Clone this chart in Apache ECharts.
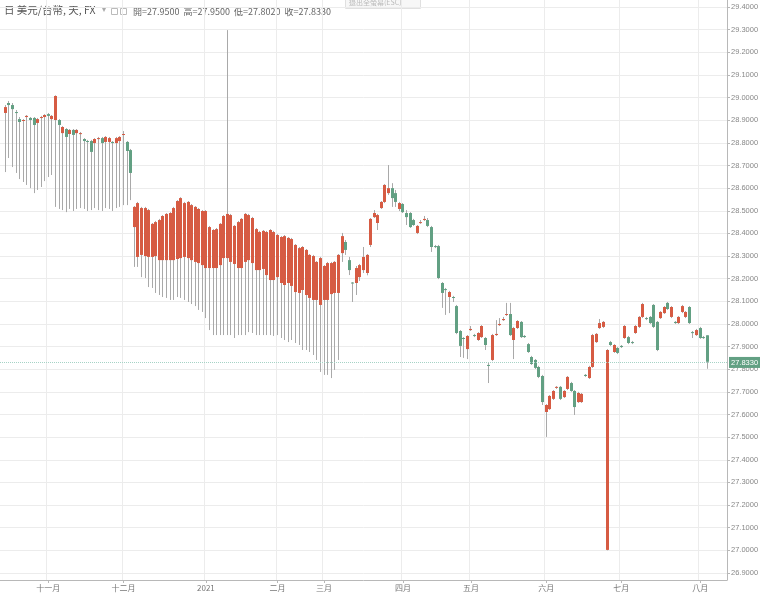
<!DOCTYPE html>
<html><head><meta charset="utf-8">
<script src="https://cdn.jsdelivr.net/npm/echarts@6/dist/echarts.min.js"></script>
<style>html,body{margin:0;padding:0;background:#fff}#c{width:760px;height:594px}</style>
</head><body><div id="c"></div>
<script>
// ---- data (USD/TWD daily, 2020-10-15 .. 2021-08-04) ----
const holidays = ['2021-01-01','2021-02-08','2021-02-09','2021-02-10','2021-02-11','2021-02-12','2021-02-15','2021-02-16','2021-03-01','2021-04-01','2021-04-02','2021-04-05','2021-06-14'];
const firstDay = '2020-10-14';   // first category slot (no candle drawn)
const lastDay = '2021-08-11';    // last category slot (empty space on right)
const firstCandleSlot = 1;
const monthNames = ['2021','二月','三月','四月','五月','六月','七月','八月','九月','十月','十一月','十二月'];
const yTicks = [26.9,27.0,27.1,27.2,27.3,27.4,27.5,27.6,27.7,27.8,27.9,28.0,28.1,28.2,28.3,28.4,28.5,28.6,28.7,28.8,28.9,29.0,29.1,29.2,29.3,29.4];
const lastClose = 27.833;

const opens = [28.932,28.976,28.967,28.936,28.905,28.897,28.914,28.910,28.910,28.888,
28.910,28.914,28.927,28.905,28.901,28.901,28.843,28.861,28.839,28.857,
28.843,28.839,28.817,28.808,28.808,28.799,28.817,28.821,28.804,28.804,
28.804,28.799,28.808,28.835,28.804,28.768,28.428,28.296,28.305,28.300,
28.296,28.296,28.300,28.282,28.282,28.282,28.282,28.282,28.287,28.291,
28.296,28.291,28.282,28.274,28.269,28.260,28.247,28.247,28.247,28.247,
28.260,28.291,28.291,28.274,28.265,28.247,28.247,28.274,28.282,28.269,
28.238,28.238,28.243,28.216,28.194,28.194,28.207,28.181,28.172,28.181,
28.168,28.141,28.137,28.150,28.128,28.115,28.106,28.106,28.084,28.106,
28.106,28.132,28.137,28.137,28.313,28.362,28.282,28.183,28.181,28.207,
28.238,28.225,28.349,28.472,28.446,28.512,28.539,28.578,28.600,28.578,
28.508,28.530,28.490,28.490,28.459,28.402,28.446,28.459,28.459,28.428,
28.344,28.344,28.181,28.154,28.119,28.119,28.079,27.969,27.938,27.889,
27.973,27.951,27.929,27.942,27.938,27.819,27.841,27.951,27.995,28.017,
28.040,28.044,27.929,27.982,28.009,27.947,27.911,27.854,27.841,27.810,
27.770,27.611,27.624,27.669,27.718,27.722,27.677,27.713,27.739,27.704,
27.655,27.655,27.775,27.761,27.810,27.920,27.982,27.987,27.002,27.920,
27.876,27.894,27.903,27.938,27.942,27.920,27.960,27.987,28.031,28.026,
28.031,28.084,28.009,28.026,28.048,28.093,28.031,28.009,28.004,28.053,
28.031,28.075,27.964,27.951,27.982,27.942,27.950];
const closes = [28.958,28.967,28.949,28.932,28.892,28.901,28.919,28.901,28.879,28.905,
28.914,28.923,28.919,28.919,29.007,28.879,28.870,28.826,28.857,28.835,
28.857,28.843,28.808,28.804,28.760,28.817,28.821,28.799,28.826,28.821,
28.799,28.821,28.826,28.839,28.764,28.667,28.517,28.534,28.512,28.512,
28.503,28.442,28.450,28.459,28.477,28.486,28.490,28.512,28.543,28.556,
28.534,28.539,28.525,28.517,28.508,28.499,28.499,28.428,28.415,28.419,
28.442,28.477,28.486,28.481,28.433,28.450,28.464,28.486,28.481,28.468,
28.419,28.406,28.411,28.406,28.415,28.406,28.393,28.384,28.388,28.380,
28.375,28.349,28.335,28.340,28.327,28.305,28.300,28.274,28.291,28.256,
28.269,28.269,28.274,28.305,28.388,28.327,28.238,28.181,28.247,28.260,
28.296,28.305,28.464,28.490,28.481,28.539,28.614,28.600,28.556,28.539,
28.534,28.494,28.472,28.428,28.437,28.433,28.450,28.464,28.433,28.340,
28.340,28.203,28.137,28.150,28.141,28.115,27.960,27.903,27.934,27.947,
27.978,27.947,27.960,27.991,27.907,27.815,27.951,27.956,28.000,28.022,
28.044,27.951,27.982,28.013,27.942,27.942,27.876,27.823,27.806,27.766,
27.655,27.642,27.682,27.704,27.722,27.669,27.704,27.766,27.704,27.633,
27.695,27.691,27.770,27.810,27.951,27.956,28.004,28.009,27.885,27.907,
27.907,27.872,27.898,27.991,27.916,27.916,27.991,28.031,28.088,28.022,
28.004,27.987,27.885,28.053,28.075,28.066,28.075,28.004,28.031,28.079,
28.053,28.004,27.960,27.973,27.938,27.938,27.833];
const lows = [28.671,28.733,28.693,28.667,28.640,28.627,28.614,28.600,28.578,28.592,
28.605,28.631,28.649,28.658,28.517,28.508,28.503,28.494,28.508,28.499,
28.508,28.512,28.508,28.499,28.503,28.512,28.503,28.499,28.512,28.508,
28.499,28.512,28.517,28.525,28.525,28.547,28.252,28.252,28.207,28.203,
28.163,28.159,28.137,28.128,28.119,28.115,28.106,28.106,28.119,28.115,
28.106,28.097,28.088,28.079,28.062,28.053,28.026,27.973,27.951,27.951,
27.951,27.951,27.951,27.951,27.938,27.951,27.951,27.951,27.964,27.960,
27.951,27.951,27.951,27.951,27.951,27.947,27.951,27.938,27.929,27.920,
27.929,27.916,27.907,27.885,27.885,27.876,27.863,27.841,27.788,27.775,
27.775,27.761,27.797,27.841,28.274,28.305,28.216,28.097,28.128,28.190,
28.225,28.215,28.340,28.468,28.415,28.508,28.534,28.570,28.517,28.517,
28.499,28.490,28.437,28.424,28.433,28.397,28.442,28.455,28.428,28.318,
28.335,28.198,28.071,28.040,28.048,28.097,27.955,27.854,27.850,27.845,
27.969,27.942,27.925,27.938,27.885,27.739,27.836,27.947,27.991,28.013,
28.035,27.947,27.845,27.978,27.938,27.938,27.872,27.819,27.801,27.761,
27.642,27.501,27.620,27.664,27.713,27.664,27.673,27.708,27.700,27.598,
27.651,27.651,27.766,27.757,27.806,27.916,27.978,27.982,27.000,27.903,
27.872,27.867,27.894,27.934,27.911,27.911,27.956,27.982,28.026,28.017,
28.000,27.982,27.880,28.022,28.044,28.062,28.026,28.000,28.000,28.048,
28.026,28.000,27.938,27.947,27.934,27.934,27.802];
const highs = [28.967,28.985,28.976,28.945,28.914,28.905,28.923,28.914,28.914,28.910,
28.919,28.927,28.932,28.923,29.010,28.905,28.874,28.865,28.861,28.861,
28.861,28.848,28.821,28.813,28.813,28.821,28.826,28.826,28.830,28.826,
28.808,28.826,28.830,28.852,28.808,28.773,28.521,28.539,28.517,28.517,
28.508,28.446,28.455,28.464,28.481,28.490,28.494,28.517,28.547,28.560,
28.539,28.543,28.530,28.521,28.512,28.503,28.503,28.433,28.419,28.424,
28.446,28.481,29.298,28.486,28.437,28.455,28.468,28.490,28.486,28.473,
28.424,28.411,28.415,28.411,28.419,28.411,28.397,28.388,28.393,28.384,
28.380,28.353,28.340,28.344,28.331,28.309,28.305,28.278,28.296,28.260,
28.274,28.274,28.278,28.309,28.402,28.371,28.296,28.185,28.256,28.265,
28.340,28.309,28.468,28.503,28.486,28.543,28.618,28.702,28.622,28.592,
28.539,28.534,28.503,28.494,28.464,28.437,28.459,28.477,28.468,28.433,
28.349,28.349,28.185,28.159,28.146,28.124,28.084,27.973,27.942,27.951,
27.991,27.956,27.964,27.995,27.942,27.832,27.956,28.017,28.026,28.031,
28.093,28.093,27.987,28.017,28.013,27.951,27.916,27.859,27.845,27.815,
27.775,27.646,27.686,27.708,27.726,27.726,27.708,27.770,27.744,27.708,
27.700,27.695,27.779,27.815,27.956,27.960,28.022,28.013,27.889,27.925,
27.911,27.898,27.907,27.995,27.947,27.925,27.995,28.035,28.093,28.031,
28.035,28.088,28.013,28.057,28.079,28.097,28.079,28.013,28.035,28.084,
28.057,28.079,27.969,27.978,27.987,27.947,27.950];

// ---- build categories (trading days) ----
function fmt(d){const m=d.getUTCMonth()+1, dd=d.getUTCDate();return d.getUTCFullYear()+'-'+(m<10?'0':'')+m+'-'+(dd<10?'0':'')+dd;}
const dates = [];
for (let d = new Date(firstDay+'T00:00:00Z'); fmt(d) <= lastDay; d.setUTCDate(d.getUTCDate()+1)) {
  const wd = d.getUTCDay(); const s = fmt(d);
  if (wd === 0 || wd === 6 || holidays.indexOf(s) >= 0) continue;
  dates.push(s);
}
const isMonthStart = (idx) => idx > 0 && dates[idx].slice(0,7) !== dates[idx-1].slice(0,7);
const candleData = opens.map((o, i) => [i + firstCandleSlot, o, closes[i], lows[i], highs[i]]);

const UP = '#d65b43', DOWN = '#62a083', WICK = '#a9a9a9';
const NUMFONT = 'Liberation Sans';
const chart = echarts.init(document.getElementById('c'), null, {renderer: 'canvas'});
chart.setOption({
  backgroundColor: '#ffffff',
  animation: false,
  grid: {left: 0, right: 33, top: 0, bottom: 14, outerBoundsMode: 'none', containLabel: false},
  xAxis: {
    type: 'category', data: dates, boundaryGap: true,
    axisLine: {lineStyle: {color: '#b8b8b8'}},
    axisTick: {show: true, alignWithLabel: true, interval: (i) => isMonthStart(i), length: 3, lineStyle: {color: '#b8b8b8'}},
    axisLabel: {interval: (i) => isMonthStart(i), formatter: (v) => monthNames[parseInt(v.slice(5,7),10)-1],
      color: '#777', fontSize: 8, margin: 4, fontFamily: 'Noto Sans CJK TC'},
    splitLine: {show: true, interval: (i) => isMonthStart(i), lineStyle: {color: '#ececec', width: 1}}
  },
  yAxis: {
    type: 'value', position: 'right', min: 26.869, max: 29.431, scale: true,
    axisLine: {show: true, lineStyle: {color: '#b8b8b8'}},
    axisTick: {show: true, length: 3, customValues: yTicks, lineStyle: {color: '#b8b8b8'}},
    axisLabel: {customValues: yTicks, formatter: (v) => v.toFixed(4), color: '#888', fontSize: 7.5, margin: 4, fontFamily: NUMFONT},
    splitLine: {show: true, lineStyle: {color: '#ececec', width: 1}}
  },
  series: [{
    type: 'custom',
    data: candleData,
    encode: {x: 0, y: [1, 2, 3, 4]},
    clip: true,
    renderItem: function (params, api) {
      const idx = api.value(0), o = api.value(1), c = api.value(2), l = api.value(3), h = api.value(4);
      const pO = api.coord([idx, o]), pC = api.coord([idx, c]), pL = api.coord([idx, l]), pH = api.coord([idx, h]);
      const bw = 3;
      const left = Math.round(pO[0] - bw / 2);
      const wx = left + bw / 2;
      const top = Math.min(pO[1], pC[1]);
      const hgt = Math.max(Math.abs(pO[1] - pC[1]), 1);
      return {type: 'group', children: [
        {type: 'line', shape: {x1: wx, y1: pH[1], x2: wx, y2: pL[1]}, style: {stroke: WICK, lineWidth: 1}},
        {type: 'rect', shape: {x: left, y: top, width: bw, height: hgt}, style: {fill: c >= o ? UP : DOWN}}
      ]};
    }
  }, {
    type: 'line', data: [], silent: true,
    markLine: {
      symbol: 'none', silent: true,
      lineStyle: {color: '#a6d3c6', type: 'dotted', width: 1},
      label: {position: 'end', formatter: lastClose.toFixed(4), color: '#fff', backgroundColor: '#62a083',
        fontSize: 7.5, padding: [2, 2, 1, 2], distance: 2, fontFamily: NUMFONT},
      data: [{yAxis: lastClose}]
    }
  }],
  graphic: [
    {type: 'text', left: 4, top: 5, style: {text: '日 美元/台幣, 天, FX', fill: '#555', fontSize: 10.5, fontFamily: 'Noto Sans CJK TC'}},
    {type: 'text', left: 102, top: 6, style: {text: '▾', fill: '#aaa', fontSize: 8}},
    {type: 'rect', left: 111, top: 8, shape: {width: 6, height: 6}, style: {fill: '#fff', stroke: '#bbb', lineWidth: 1}},
    {type: 'rect', left: 120, top: 8, shape: {width: 6, height: 6}, style: {fill: '#fff', stroke: '#bbb', lineWidth: 1}},
    {type: 'text', left: 133, top: 7, style: {text: '開=27.9500  高=27.9500  低=27.8020  收=27.8330', fill: '#666', fontSize: 9, fontFamily: 'Noto Sans CJK TC'}},
    {type: 'rect', left: 345, top: -2, shape: {width: 75, height: 10}, style: {fill: '#f7f7f7', stroke: '#e0e0e0', lineWidth: 1}},
    {type: 'text', left: 349, top: -1, style: {text: '退出全螢幕(ESC)', fill: '#bbb', fontSize: 7, fontFamily: 'Noto Sans CJK TC'}}
  ]
});
</script></body></html>
